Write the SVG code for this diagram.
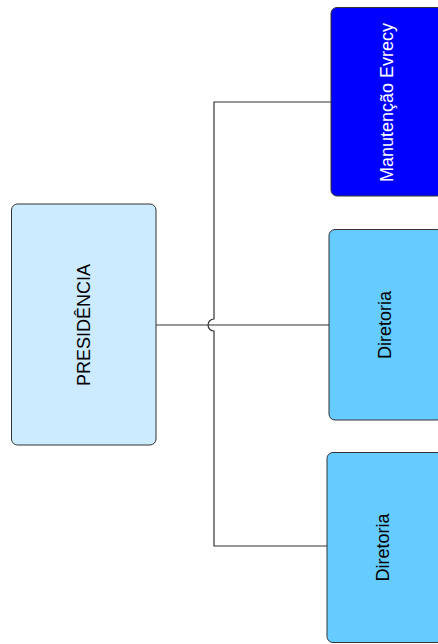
<svg xmlns="http://www.w3.org/2000/svg" width="438" height="644" viewBox="0 0 438 644">
<style>
.box{stroke:#333;stroke-width:1}
.lbl{font-family:"Liberation Sans",Arial,sans-serif;font-size:18px;text-anchor:middle;dominant-baseline:central}
.edge{fill:none;stroke:#333;stroke-width:1.2}
</style>
<rect width="438" height="644" fill="#fff"/>
<g id="connectors">
<path class="edge" d="M156,325 H329"/>
<path class="edge" d="M331,102 H214 V319 A6,6 0 0 0 214,331 V546 H327"/>
</g>
<g id="presidencia">
<rect class="box" x="11.5" y="204" width="144.5" height="241" rx="6" fill="#CCEBFF"/>
<text class="lbl" transform="translate(83.5,325) rotate(-90)" fill="#000">PRESIDÊNCIA</text>
</g>
<g id="manutencao">
<rect class="box" x="331" y="7.5" width="112" height="188.5" rx="6" fill="#0000FF"/>
<text class="lbl" transform="translate(387,102.5) rotate(-90)" fill="#fff">Manutenção Evrecy</text>
</g>
<g id="diretoria1">
<rect class="box" x="329" y="229.5" width="114" height="190.5" rx="6" fill="#66CCFF"/>
<text class="lbl" transform="translate(385,325) rotate(-90)" fill="#000">Diretoria</text>
</g>
<g id="diretoria2">
<rect class="box" x="327" y="452.5" width="116" height="190" rx="6" fill="#66CCFF"/>
<text class="lbl" transform="translate(383,547.5) rotate(-90)" fill="#000">Diretoria</text>
</g>
</svg>
